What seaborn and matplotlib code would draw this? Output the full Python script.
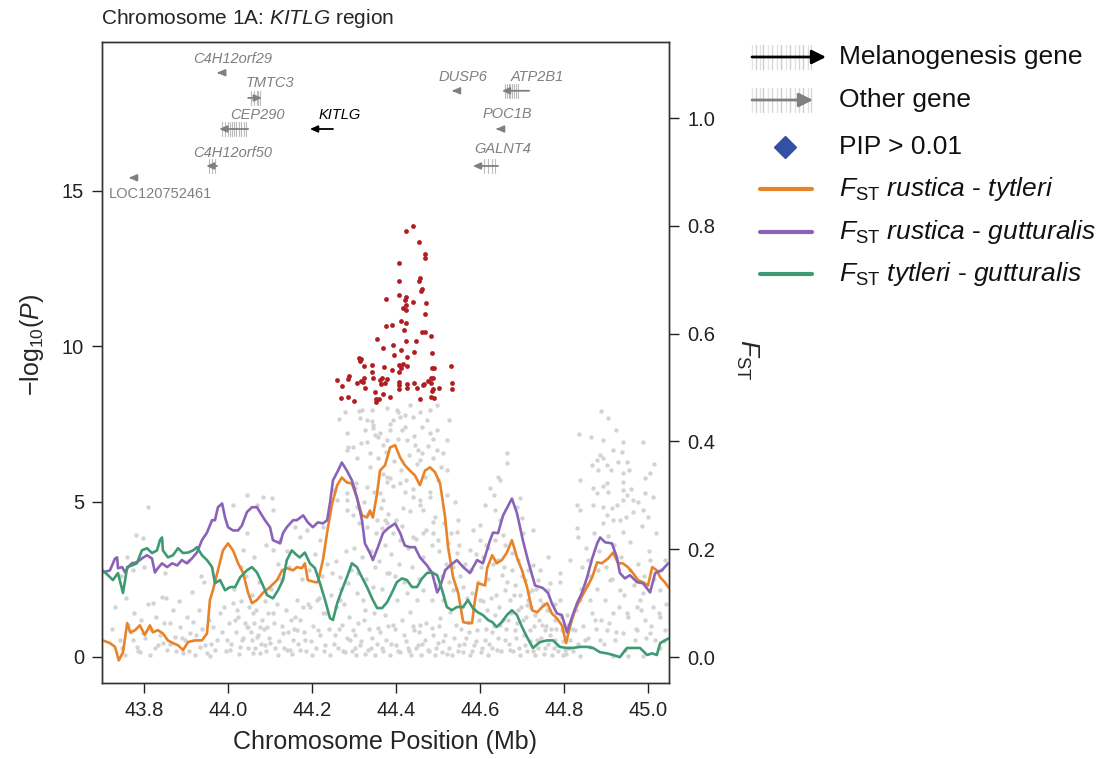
import numpy as np
import pandas as pd
import matplotlib
matplotlib.use("Agg")
import matplotlib.pyplot as plt
import seaborn as sns

sns.set_theme(style="white")
plt.rcParams['font.family'] = ['Liberation Sans', 'DejaVu Sans']
plt.rcParams['mathtext.fontset'] = 'custom'
plt.rcParams['mathtext.rm'] = 'Liberation Sans'
plt.rcParams['mathtext.it'] = 'Liberation Sans:italic'
plt.rcParams['mathtext.bf'] = 'Liberation Sans:bold'

# ---------------- data ----------------
# FST sliding-window series (position in Mb, FST)
fst_rt_pos = [43.702,43.719,43.731,43.740,43.750,43.760,43.767,43.779,43.790,43.802,43.814,43.821,43.833,43.845,43.857,43.869,43.881,43.893,43.905,43.921,43.938,43.950,43.957,43.964,43.976,43.988,44.000,44.012,44.024,44.036,44.048,44.057,44.069,44.083,44.100,44.117,44.129,44.140,44.155,44.164,44.176,44.183,44.190,44.207,44.214,44.226,44.238,44.248,44.260,44.271,44.283,44.295,44.307,44.319,44.331,44.338,44.345,44.355,44.362,44.374,44.386,44.398,44.410,44.421,44.433,44.445,44.457,44.469,44.481,44.493,44.505,44.517,44.524,44.536,44.548,44.560,44.571,44.581,44.588,44.595,44.612,44.617,44.629,44.640,44.652,44.664,44.676,44.688,44.700,44.712,44.724,44.736,44.748,44.760,44.771,44.783,44.795,44.805,44.814,44.826,44.838,44.855,44.867,44.879,44.890,44.905,44.917,44.929,44.940,44.952,44.964,44.976,44.988,45.000,45.010,45.021,45.029,45.040,45.050]
fst_rt_val = [0.031,0.026,0.019,-0.006,0.009,0.063,0.046,0.050,0.059,0.041,0.059,0.046,0.050,0.044,0.031,0.026,0.022,0.013,0.028,0.031,0.031,0.044,0.106,0.124,0.161,0.198,0.211,0.198,0.174,0.156,0.119,0.100,0.106,0.119,0.130,0.143,0.161,0.165,0.161,0.167,0.165,0.174,0.143,0.139,0.139,0.180,0.241,0.285,0.319,0.333,0.324,0.322,0.296,0.263,0.259,0.272,0.259,0.304,0.346,0.356,0.389,0.393,0.370,0.356,0.346,0.337,0.319,0.346,0.352,0.343,0.322,0.259,0.204,0.148,0.119,0.065,0.063,0.063,0.106,0.137,0.133,0.165,0.189,0.174,0.180,0.194,0.217,0.185,0.161,0.130,0.087,0.083,0.093,0.100,0.081,0.072,0.059,0.026,0.056,0.087,0.106,0.130,0.148,0.176,0.174,0.183,0.194,0.174,0.174,0.167,0.156,0.143,0.139,0.133,0.167,0.161,0.148,0.139,0.128]

fst_rg_pos = [43.702,43.719,43.731,43.736,43.738,43.748,43.755,43.762,43.771,43.783,43.795,43.807,43.819,43.826,43.833,43.843,43.855,43.867,43.879,43.890,43.902,43.914,43.926,43.938,43.950,43.962,43.969,43.976,43.986,43.993,44.000,44.012,44.024,44.033,44.045,44.057,44.069,44.076,44.088,44.100,44.107,44.124,44.131,44.140,44.155,44.164,44.179,44.190,44.202,44.214,44.226,44.236,44.243,44.250,44.262,44.271,44.283,44.295,44.307,44.319,44.326,44.338,44.345,44.357,44.369,44.381,44.398,44.410,44.421,44.433,44.445,44.457,44.474,44.486,44.498,44.505,44.517,44.529,44.545,44.560,44.576,44.593,44.607,44.624,44.631,44.643,44.655,44.676,44.688,44.702,44.714,44.731,44.750,44.762,44.771,44.783,44.795,44.807,44.819,44.831,44.843,44.855,44.867,44.879,44.886,44.898,44.914,44.926,44.933,44.945,44.957,44.974,44.988,45.005,45.017,45.033,45.048]
fst_rg_val = [0.157,0.161,0.183,0.185,0.165,0.167,0.157,0.167,0.174,0.176,0.183,0.189,0.183,0.157,0.165,0.174,0.167,0.174,0.170,0.180,0.174,0.183,0.194,0.217,0.231,0.254,0.254,0.278,0.285,0.259,0.241,0.235,0.235,0.244,0.269,0.278,0.278,0.269,0.254,0.241,0.217,0.211,0.230,0.241,0.254,0.254,0.263,0.250,0.241,0.250,0.248,0.254,0.287,0.328,0.346,0.361,0.346,0.328,0.296,0.254,0.211,0.193,0.180,0.204,0.230,0.239,0.248,0.230,0.207,0.204,0.204,0.185,0.170,0.156,0.120,0.130,0.161,0.170,0.180,0.167,0.156,0.180,0.174,0.217,0.231,0.230,0.263,0.294,0.267,0.217,0.180,0.133,0.128,0.119,0.100,0.081,0.078,0.046,0.074,0.100,0.120,0.148,0.183,0.211,0.222,0.213,0.211,0.185,0.156,0.146,0.152,0.139,0.137,0.120,0.156,0.161,0.174]

fst_tg_pos = [43.702,43.714,43.726,43.738,43.750,43.760,43.771,43.783,43.795,43.807,43.819,43.831,43.838,43.843,43.845,43.857,43.869,43.881,43.893,43.905,43.917,43.926,43.938,43.950,43.962,43.969,43.981,43.993,44.005,44.017,44.029,44.045,44.057,44.069,44.081,44.093,44.107,44.119,44.131,44.140,44.152,44.164,44.171,44.183,44.195,44.207,44.219,44.231,44.243,44.250,44.260,44.271,44.283,44.295,44.307,44.319,44.331,44.343,44.355,44.367,44.379,44.390,44.402,44.414,44.426,44.438,44.450,44.462,44.474,44.486,44.498,44.510,44.521,44.533,44.545,44.560,44.571,44.583,44.595,44.607,44.619,44.629,44.640,44.652,44.664,44.676,44.688,44.700,44.712,44.726,44.743,44.760,44.774,44.790,44.807,44.821,44.838,44.855,44.869,44.886,44.902,44.917,44.933,44.950,44.964,44.981,44.998,45.010,45.021,45.029,45.040,45.050]
fst_tg_val = [0.161,0.152,0.143,0.156,0.119,0.167,0.170,0.174,0.198,0.202,0.193,0.198,0.217,0.222,0.198,0.185,0.189,0.202,0.193,0.194,0.198,0.204,0.189,0.180,0.167,0.137,0.143,0.124,0.130,0.130,0.148,0.161,0.167,0.157,0.137,0.115,0.109,0.124,0.143,0.180,0.198,0.189,0.185,0.194,0.174,0.165,0.137,0.106,0.072,0.069,0.100,0.124,0.148,0.174,0.167,0.148,0.130,0.109,0.091,0.091,0.102,0.119,0.139,0.146,0.143,0.130,0.130,0.146,0.156,0.157,0.152,0.124,0.093,0.087,0.093,0.093,0.106,0.091,0.083,0.078,0.069,0.065,0.056,0.065,0.078,0.087,0.078,0.056,0.037,0.017,0.028,0.031,0.031,0.019,0.017,0.017,0.019,0.019,0.017,0.009,0.007,0.004,0.000,0.017,0.017,0.017,0.004,0.007,0.004,0.026,0.031,0.035]

# SNP association: -log10(P), all SNPs (grey)
gray_pos = [43.810,43.781,43.798,43.774,43.843,43.821,43.862,43.886,43.917,43.774,43.783,43.814,43.855,43.893,43.933,43.950,43.964,43.981,43.998,44.012,44.021,44.017,44.045,44.069,44.083,44.105,44.107,44.107,44.124,44.045,44.036,44.060,44.045,44.069,44.029,44.076,44.100,44.131,44.140,44.155,44.164,44.093,44.107,44.048,44.057,44.060,44.076,43.957,43.974,43.910,43.874,43.845,43.798,43.790,43.743,43.755,43.762,43.833,43.898,43.921,43.945,43.969,43.986,44.005,44.033,44.088,44.119,44.148,44.012,
            44.264,44.283,44.279,44.312,44.331,44.343,44.345,44.350,44.379,44.393,44.405,44.414,44.433,44.457,44.481,44.498,44.498,44.526,44.402,44.410,44.319,44.314,44.345,44.357,44.386,44.421,44.440,44.474,44.481,44.286,44.307,44.338,44.369,44.426,44.445,44.462,44.488,44.521,44.521,44.298,44.283,44.331,44.379,44.452,44.457,44.498,44.512,
            44.379,44.386,44.410,44.421,44.440,44.457,44.464,44.417,44.369,44.331,44.302,44.283,44.250,44.260,44.283,44.307,44.355,44.379,44.393,44.410,44.440,44.464,44.488,44.500,44.524,44.545,44.576,44.607,44.226,44.219,44.188,44.171,44.160,44.379,44.362,44.481,44.548,44.545,44.283,44.298,44.331,44.367,44.374,44.488,44.612,44.643,
            44.248,44.267,44.286,44.307,44.321,44.345,44.379,44.402,44.426,44.450,44.464,44.486,44.512,44.536,44.560,44.581,44.600,44.617,44.164,44.179,44.195,44.212,44.226,44.160,
            44.171,44.183,44.200,44.214,44.231,44.243,44.255,44.262,44.271,44.279,44.290,44.298,44.305,44.314,44.324,44.333,44.343,44.350,44.357,44.367,44.376,44.386,44.393,44.400,44.410,44.419,44.429,44.436,44.443,44.452,44.460,44.469,44.476,44.486,44.493,44.500,44.510,44.517,44.526,44.533,44.543,44.550,44.560,44.567,44.576,44.586,44.593,44.602,44.612,44.619,44.629,44.267,44.326,44.374,44.433,44.505,44.571,44.302,44.457,44.529,
            44.888,44.905,44.836,44.864,44.893,44.940,44.988,44.886,44.879,44.893,44.917,44.929,44.950,44.902,44.867,44.940,45.005,44.838,44.869,44.902,44.905,44.940,44.940,44.950,44.940,44.964,44.993,44.993,45.012,44.831,44.838,44.879,44.893,44.914,44.902,44.917,44.964,44.988,45.000,44.893,44.933,44.940,44.831,44.833,44.664,44.664,44.648,44.624,44.633,44.695,44.636,44.688,44.700,44.655,44.702,44.726,44.762,44.790,44.726,44.743,44.790,44.767,44.843,44.855,44.838,44.862,44.988,45.012,45.029,44.974,44.950,44.917,44.902,44.940,44.974,45.005,44.886,44.862,44.838,44.917,44.952,44.988,45.029,
            44.643,44.652,44.660,44.671,44.676,44.683,44.690,44.695,44.702,44.707,44.712,44.719,44.724,44.731,44.736,44.743,44.748,44.755,44.760,44.767,44.771,44.779,44.783,44.790,44.795,44.802,44.807,44.814,44.660,44.671,44.683,44.695,44.707,44.648,44.636,44.640,44.731,44.755,44.779,44.798,44.810,44.667,44.714,44.762,44.738,44.714,44.690,
            44.826,44.850,44.874,44.898,44.921,44.945,44.969,44.993,45.017,45.040,44.910,44.957,45.005,44.933,44.981,45.029,45.040,44.881,44.857,44.814,
            44.600,44.619,44.636,44.660,44.676,44.648,44.600,44.583,
            43.725,43.732,43.748,43.757,43.768,43.776,43.786,43.792,43.803,43.809,43.817,43.826,43.829,43.838,43.848,43.852,43.862,43.868,43.877,43.883,43.890,43.903,43.908,43.914,43.925,43.930,43.938,43.942,43.955,43.960,43.745,43.760,43.800,43.850,43.905,43.935,
            43.990,43.995,44.002,44.008,44.014,44.019,44.024,44.027,44.031,44.035,44.040,44.043,44.047,44.051,44.054,44.058,44.062,44.064,44.067,44.071,44.074,44.078,44.081,44.085,44.088,44.091,44.095,44.098,44.102,44.110,44.113,44.116,44.121,44.126,44.129,44.134,44.137,44.143,44.146,44.150,44.153,44.158,44.062,44.090,44.118,44.030,44.140,
            44.167,44.172,44.176,44.180,44.186,44.190,44.193,44.198,44.203,44.206,44.210,44.216,44.220,44.224,44.228,44.233,44.236,44.240,44.245,44.252,44.257,44.258,44.265,44.268,44.273,44.276,44.281,44.284,44.288,44.292,44.296,
            44.300,44.305,44.309,44.313,44.316,44.320,44.323,44.327,44.329,44.334,44.337,44.340,44.342,44.347,44.349,44.353,44.356,44.359,44.361,44.364,44.366,44.370,44.373,44.377,44.380,44.383,44.386,44.389,44.392,44.395,44.398,44.401,44.404,44.408,44.411,44.415,44.418,44.421,44.424,44.428,44.431,44.434,44.437,44.441,44.444,44.447,44.451,44.454,44.458,44.461,44.465,44.468,44.472,44.475,44.479,44.482,44.485,44.489,44.492,44.495,44.499,44.503,44.507,44.510,44.514,44.518,44.522,44.527,44.531,44.535,44.540,44.544,44.550,
            44.302,44.309,44.317,44.327,44.336,44.340,44.347,44.355,44.361,44.369,44.380,44.389,44.398,44.405,44.414,44.423,44.431,44.440,44.447,44.455,44.463,44.471,44.479,44.488,44.496,44.503,44.513,44.521,44.539,44.547,44.555,44.563,44.573,44.580,44.590,44.597,44.605,44.615,44.622,
            44.553,44.558,44.565,44.570,44.578,44.585,44.590,44.596,44.603,44.608,44.614,44.620,44.626,44.630,
            44.628,44.633,44.638,44.642,44.646,44.650,44.654,44.657,44.662,44.665,44.669,44.673,44.678,44.680,44.685,44.688,44.693,44.697,44.700,44.704,44.709,44.711,44.716,44.720,44.722,44.727,44.729,44.733,44.738,44.741,44.745,44.750,44.753,44.757,44.763,44.765,44.770,44.775,44.778,44.782,44.786,44.792,44.797,44.800,44.804,44.812,44.818,44.822,
            44.828,44.834,44.841,44.846,44.852,44.858,44.861,44.866,44.871,44.876,44.878,44.884,44.889,44.892,44.896,44.899,44.904,44.908,44.912,44.915,44.919,44.923,44.926,44.931,44.935,44.938,44.943,44.947,44.953,44.956,44.960,44.966,44.971,44.977,44.983,44.985,44.991,44.996,45.002,45.008,45.014,45.020,45.025,45.032,45.037,45.044,44.925,44.955,44.975,45.015,44.870,44.880]
gray_logp = [4.83,3.93,3.83,2.80,1.93,1.74,1.09,0.97,1.13,0.55,0.32,0.06,0.23,0.13,0.32,0.13,0.97,1.42,0.55,1.74,1.51,1.19,5.21,4.89,5.15,5.12,4.73,3.44,3.77,3.99,3.44,1.42,0.97,0.64,0.32,0.13,0.45,0.77,0.23,0.55,0.87,0.97,1.42,0.97,0.55,0.13,0.97,0.03,0.55,0.77,0.64,0.45,0.77,0.16,0.55,0.06,1.03,0.39,0.55,0.06,0.39,0.23,0.80,0.23,0.55,0.39,0.06,0.23,4.89,
             7.66,7.21,7.89,7.92,7.63,7.95,7.37,7.15,8.01,7.63,7.89,7.31,8.11,7.89,7.95,8.11,7.31,7.63,7.95,7.72,7.95,7.69,7.47,7.08,7.31,7.40,7.72,7.63,7.21,6.76,6.40,6.57,6.82,6.98,6.82,6.57,6.40,6.98,6.02,6.76,6.66,6.92,6.98,6.66,6.34,6.66,6.57,
             5.79,5.76,5.60,5.31,5.15,5.05,4.73,4.80,5.05,5.47,5.44,5.28,5.37,5.05,4.73,4.83,4.41,4.31,3.99,3.77,3.86,3.99,3.99,3.77,3.67,3.35,3.44,3.22,4.18,3.77,4.09,3.86,4.18,5.63,5.28,5.15,4.41,4.02,5.05,4.57,4.18,4.15,4.41,4.35,4.89,5.79,
             2.70,2.57,2.38,2.06,1.83,2.25,2.70,1.83,2.06,1.83,2.16,1.83,1.83,2.16,2.25,2.06,1.83,1.51,1.83,1.61,1.61,1.83,1.42,1.29,
             0.23,0.55,0.06,0.87,0.39,0.06,0.71,0.29,1.03,0.16,0.55,0.87,0.06,0.39,1.19,0.23,0.61,0.06,0.93,0.29,0.55,0.06,1.03,0.39,0.16,0.71,0.29,0.06,0.87,0.39,0.06,0.55,0.23,0.93,0.06,0.45,0.16,0.71,0.29,0.06,1.03,0.39,0.16,0.61,0.06,0.39,0.87,0.16,0.55,0.06,0.80,1.83,1.51,1.35,1.45,1.26,1.13,0.71,1.03,1.45,
             7.92,7.69,7.18,7.08,6.98,6.92,6.92,6.50,6.34,6.40,6.66,6.28,6.28,6.18,6.18,5.92,5.92,5.70,5.44,5.60,5.31,5.63,5.37,5.21,5.05,5.05,5.76,5.28,5.15,4.89,4.73,5.28,4.83,4.80,4.57,4.41,4.67,4.73,4.51,4.31,4.41,4.02,4.15,3.86,6.57,6.24,5.70,5.44,5.21,5.12,4.73,4.83,4.47,3.93,3.99,4.09,3.22,2.70,2.96,2.80,2.41,2.38,2.90,2.32,1.83,1.83,2.06,1.61,1.29,1.61,1.42,1.42,0.87,0.77,0.87,0.77,0.55,0.32,0.03,0.03,0.03,0.03,0.29,
             3.12,2.64,2.16,1.83,2.80,2.32,1.51,2.00,1.19,2.48,1.67,0.87,2.16,1.35,0.55,1.83,1.03,0.29,1.51,0.71,0.06,1.19,0.39,1.83,0.87,0.23,1.35,0.55,0.55,0.23,0.87,0.06,0.39,1.03,1.35,0.23,0.06,0.87,0.55,0.06,1.03,1.19,1.83,2.16,2.48,2.80,3.12,
             0.87,0.55,1.19,1.83,0.55,0.23,0.55,1.19,0.55,0.87,2.48,2.80,3.12,2.16,1.83,2.16,3.12,2.80,3.12,3.12,
             3.77,3.51,3.77,3.60,3.35,4.41,4.25,4.09,
             0.9,1.6,0.3,1.9,0.8,1.4,0.2,1.2,0.6,1.7,0.9,0.3,1.3,0.7,1.1,1.9,0.4,1.5,0.2,1.8,0.6,1.3,0.2,2.1,0.7,1.5,0.9,2.4,1.2,0.4,2.6,3.2,2.9,2.7,3.1,2.6,
             1.6,0.2,1.1,0.4,2.2,0.8,1.3,0.1,1.8,0.6,1.1,2.6,0.3,1.6,0.8,2.0,1.1,0.3,1.5,0.7,2.4,0.4,1.2,0.9,1.8,0.2,1.4,0.6,2.2,1.1,0.3,1.7,0.5,2.5,1.0,0.3,1.5,0.8,2.9,1.2,0.1,0.9,3.2,3.6,3.0,2.9,3.4,
             0.4,1.2,2.5,0.8,0.2,1.7,2.8,0.5,1.0,3.3,0.3,1.9,0.7,2.6,0.2,1.4,3.0,0.9,2.0,0.4,1.6,3.1,0.9,2.2,0.2,1.7,3.4,0.6,1.3,2.8,0.2,
             3.5,5.6,2.7,4.3,6.9,3.2,5.0,7.3,2.5,4.6,6.1,3.4,7.6,5.3,2.9,4.0,6.4,3.1,7.2,4.8,2.2,5.9,3.6,6.6,4.6,2.7,7.5,3.3,5.5,6.3,2.6,4.4,7.0,3.0,6.0,4.2,2.4,7.8,5.7,3.5,6.5,4.7,2.9,5.4,7.1,3.8,6.2,2.5,4.9,7.4,3.2,5.8,4.1,6.8,2.8,5.3,3.6,7.0,4.5,2.3,5.7,3.4,6.1,2.6,4.3,3.0,5.2,2.4,4.0,2.9,5.0,2.2,3.6,
             0.3,1.1,0.5,0.1,0.9,0.3,1.4,0.4,0.8,0.2,1.0,0.4,0.9,0.2,1.2,0.5,0.2,1.0,0.3,0.8,0.4,1.1,0.2,0.7,0.3,1.0,0.5,0.1,0.6,0.2,0.9,0.4,0.8,0.2,0.5,1.2,0.3,0.9,0.4,
             2.6,1.6,3.0,1.9,2.8,1.5,3.3,2.4,2.9,1.8,3.6,2.5,1.9,3.0,
             0.3,1.0,2.0,0.6,1.6,0.2,1.2,2.9,0.9,2.4,0.4,1.4,0.2,2.0,0.6,1.1,0.3,1.6,2.6,0.7,1.3,0.2,2.1,0.5,1.6,0.2,1.0,2.2,0.3,1.2,0.6,1.7,0.1,1.0,0.4,1.5,0.9,0.3,1.7,0.9,0.2,1.3,0.5,1.0,0.1,0.3,0.9,0.2,
             1.5,0.4,2.2,1.0,3.5,0.6,2.6,1.4,4.0,0.9,2.2,3.4,1.2,5.5,0.4,2.9,3.9,1.1,6.0,2.5,3.6,0.8,4.9,1.6,3.2,6.6,2.0,4.5,1.3,3.7,5.4,2.3,0.9,3.0,1.5,4.2,2.6,0.6,3.4,1.0,2.5,4.0,1.4,2.8,0.5,1.7,7.3,6.0,5.0,6.2,4.9,6.0]

# top SNPs (red)
red_pos = [44.440,44.424,44.455,44.469,44.469,44.407,44.407,44.455,44.457,44.462,44.460,44.407,44.376,44.424,44.421,44.440,44.471,44.424,44.417,44.424,44.469,44.412,44.424,44.376,44.390,44.419,44.462,44.469,44.483,44.355,44.424,44.448,44.393,44.369,44.412,44.443,44.486,44.395,44.426,44.312,44.317,44.314,44.343,44.324,44.371,44.407,44.417,44.426,44.412,44.407,44.390,44.343,44.486,44.490,44.531,44.288,44.286,44.260,44.324,44.317,44.321,44.345,44.367,44.362,44.379,44.483,44.488,44.476,44.307,44.364,44.374,44.407,44.407,44.426,44.443,44.464,44.467,44.483,44.533,44.271,44.326,44.407,44.426,44.450,44.488,44.486,44.502,44.533,44.350,44.369,44.269,44.286,44.300,44.352,44.360,44.386,44.457,44.483,44.490,44.352]
red_logp = [13.87,13.71,13.36,12.97,12.84,12.68,12.10,12.10,12.20,11.84,11.78,11.65,11.52,11.59,11.49,11.43,11.39,11.33,11.23,11.17,11.04,10.81,10.75,10.65,10.69,10.52,10.46,10.46,10.33,10.23,10.17,10.17,10.04,9.95,9.88,9.82,9.78,9.72,9.66,9.62,9.59,9.53,9.40,9.37,9.33,9.40,9.43,9.37,9.30,9.17,9.24,9.17,9.30,9.30,9.37,9.04,8.95,8.92,8.98,8.88,8.85,8.98,8.98,8.92,8.95,8.98,8.98,8.88,8.82,8.79,8.82,8.85,8.75,8.79,8.82,8.75,8.79,8.82,8.82,8.72,8.66,8.63,8.66,8.66,8.63,8.56,8.66,8.63,8.53,8.46,8.34,8.37,8.24,8.30,8.30,8.37,8.30,8.37,8.34,8.21]

# Genes
gene_names = ["C4H12orf29", "TMTC3", "CEP290", "KITLG", "C4H12orf50", "LOC120752461",
              "DUSP6", "ATP2B1", "POC1B", "GALNT4"]
gene_start = [43.974, 44.048, 43.979, 44.195, 43.948, 43.764, 44.533, 44.652, 44.638, 44.583]
gene_end   = [43.979, 44.081, 44.048, 44.250, 43.974, 43.771, 44.540, 44.717, 44.643, 44.643]
gene_strand = ["-", "+", "-", "-", "-", "-", "-", "-", "-", "-"]
gene_row = [18.80, 17.99, 16.99, 16.99, 15.80, 15.42, 18.22, 18.22, 16.99, 15.80]
gene_label_x = [44.012, 44.100, 44.069, 44.267, 44.010, 43.838, 44.560, 44.736, 44.664, 44.655]
gene_label_y = [19.25, 18.47, 17.44, 17.44, 16.22, 14.90, 18.67, 18.67, 17.48, 16.34]
gene_melano = [False, False, False, True, False, False, False, False, False, False]
gene_exons = [[], [44.055, 44.062, 44.068, 44.072, 44.076],
              [43.985, 43.992, 44.000, 44.005, 44.010, 44.015, 44.020, 44.026, 44.032, 44.038, 44.044],
              [], [43.955, 43.962, 43.968], [], [],
              [44.660, 44.664, 44.668, 44.672, 44.676, 44.681, 44.686, 44.690], [],
              [44.610, 44.620, 44.628, 44.636]]

x_ticks = [43.8, 44.0, 44.2, 44.4, 44.6, 44.8, 45.0]
y_ticks = [0, 5, 10, 15]
fst_ticks = [0.0, 0.2, 0.4, 0.6, 0.8, 1.0]

legend_labels = ["Melanogenesis gene", "Other gene", "PIP > 0.01",
                 r"$F_{\rm ST}$ $\it{rustica}$ - $\it{tytleri}$",
                 r"$F_{\rm ST}$ $\it{rustica}$ - $\it{gutturalis}$",
                 r"$F_{\rm ST}$ $\it{tytleri}$ - $\it{gutturalis}$"]

# ---------------- style ----------------
C_ORANGE = "#E8832A"
C_PURPLE = "#8A63B8"
C_GREEN = "#3E9A72"
C_RED = "#B01E22"
C_GRAY = "#D3D3D3"
C_BLUE = "#3450A6"
C_GENE = "#808080"

W, H = 1104, 759
fig = plt.figure(figsize=(W / 100, H / 100), dpi=100)
ax = fig.add_axes([102 / W, 1 - 683 / H, 567 / W, 641 / H])

gray_df = pd.DataFrame({"pos": gray_pos, "logp": gray_logp})
red_df = pd.DataFrame({"pos": red_pos, "logp": red_logp})
sns.scatterplot(data=gray_df, x="pos", y="logp", ax=ax, color=C_GRAY, s=10,
                linewidth=0, zorder=2, legend=False)
sns.scatterplot(data=red_df, x="pos", y="logp", ax=ax, color=C_RED, s=12,
                linewidth=0, zorder=3, legend=False)

# genes
for i, name in enumerate(gene_names):
    c = "black" if gene_melano[i] else C_GENE
    y = gene_row[i]
    for ex in gene_exons[i]:
        ax.plot([ex, ex], [y - 0.22, y + 0.22], color="#BBBBBB", lw=0.8, zorder=4)
    if gene_strand[i] == "-":
        head, tail = gene_start[i], gene_end[i]
    else:
        head, tail = gene_end[i], gene_start[i]
    ax.annotate("", xy=(head, y), xytext=(tail, y),
                arrowprops=dict(arrowstyle="-|>,head_length=0.45,head_width=0.2",
                                color=c, lw=1.3, shrinkA=0, shrinkB=0,
                                mutation_scale=10), zorder=5)
    style = "normal" if name.startswith("LOC") else "italic"
    ax.text(gene_label_x[i], gene_label_y[i], name, color=c, fontsize=10.5,
            style=style, ha="center", va="center", zorder=6)

ax.set_xlim(43.7, 45.05)
ax.set_ylim(-0.84, 19.79)
ax.set_xticks(x_ticks)
ax.set_xticklabels([f"{v:.1f}" for v in x_ticks])
ax.set_yticks(y_ticks)
ax.set_yticklabels([str(v) for v in y_ticks])
ax.set_xlabel("")
ax.set_ylabel("")
ax.tick_params(axis="both", direction="out", length=7, width=1, labelsize=14.5,
               bottom=True, left=True, colors="#222222", pad=6)
for sp in ax.spines.values():
    sp.set_color("#333333")
    sp.set_linewidth(1)

ax2 = ax.twinx()
for pos, val, col in [(fst_rt_pos, fst_rt_val, C_ORANGE),
                      (fst_rg_pos, fst_rg_val, C_PURPLE),
                      (fst_tg_pos, fst_tg_val, C_GREEN)]:
    sns.lineplot(x=pos, y=val, ax=ax2, color=col, lw=1.9, sort=False,
                 estimator=None, legend=False)
ax2.set_ylim(-0.048, 1.141)
ax2.set_xlim(43.7, 45.05)
ax2.set_yticks(fst_ticks)
ax2.set_yticklabels([f"{v:.1f}" for v in fst_ticks])
ax2.set_ylabel("")
ax2.tick_params(axis="y", direction="out", length=7, width=1, labelsize=14.5,
                right=True, colors="#222222", pad=6)
for sp in ax2.spines.values():
    sp.set_color("#333333")
    sp.set_linewidth(1)

def fx(px):
    return px / W

def fy(py):
    return 1 - py / H

fig.text(fx(101), fy(18), r"Chromosome 1A: $\it{KITLG}$ region", fontsize=15,
         ha="left", va="center")
fig.text(fx(385), fy(742), "Chromosome Position (Mb)", fontsize=18,
         ha="center", va="center")
fig.text(fx(32), fy(345), r"$-$log$_{10}$($\it{P}$)", fontsize=18,
         ha="center", va="center", rotation=90)
fig.text(fx(747), fy(360), r"$F_{\rm ST}$", fontsize=19,
         ha="center", va="center", rotation=270)

# legend (drawn in figure pixel space)
lax = fig.add_axes([0, 0, 1, 1], facecolor="none")
lax.set_xlim(0, W)
lax.set_ylim(H, 0)
lax.axis("off")
stripe_x = [752, 756, 760, 763, 768, 772, 777, 781, 786, 790, 795, 799, 803, 808, 811]
stripe_a = [0.25, 0.45, 0.3, 0.5, 0.25, 0.4, 0.3, 0.5, 0.25, 0.45, 0.3, 0.4, 0.5, 0.3, 0.4]
leg_y = [57, 100, 147, 189, 232, 274]
for yy, tip, col in [(leg_y[0], 826, "black"), (leg_y[1], 813, C_GENE)]:
    for sx, sa in zip(stripe_x, stripe_a):
        lax.plot([sx, sx], [yy - 12, yy + 12], color="#999999", alpha=sa, lw=1)
    lax.annotate("", xy=(tip, yy), xytext=(752, yy),
                 arrowprops=dict(arrowstyle="-|>,head_length=0.6,head_width=0.3",
                                 color=col, lw=2, shrinkA=0, shrinkB=0,
                                 mutation_scale=14))
lax.plot([785], [leg_y[2]], marker="D", markersize=11, color=C_BLUE, ls="none")
for yy, col in zip(leg_y[3:], [C_ORANGE, C_PURPLE, C_GREEN]):
    lax.plot([760, 812], [yy, yy], color=col, lw=3, solid_capstyle="round")
for yy, lab in zip(leg_y, legend_labels):
    lax.text(839, yy, lab, fontsize=19, ha="left", va="center", color="#111111")

fig.savefig("out.png", dpi=100)
